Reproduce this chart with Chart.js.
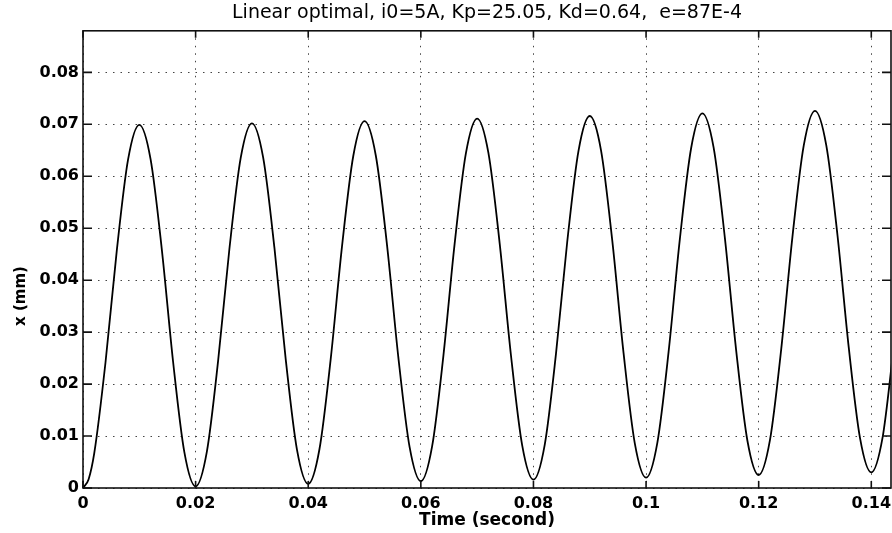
<!DOCTYPE html>
<html>
<head>
<meta charset="utf-8">
<script src="https://cdn.jsdelivr.net/npm/chart.js@4.4.1/dist/chart.umd.min.js"></script>
<style>
  body { margin: 0; background: #fff; }
  #wrap { width: 892px; height: 533px; }
</style>
</head>
<body>
<div id="wrap"><canvas id="lineChart"></canvas></div>
<script>
const lineChart = document.getElementById('lineChart');

// time (s), read every 2 ms off the plot (plus one early point at 1 ms)
const times = [
	0, 0.001, 0.002, 0.004, 0.006, 0.008, 0.010, 0.012, 0.014, 0.016, 0.018,
	0.020, 0.022, 0.024, 0.026, 0.028, 0.030, 0.032, 0.034, 0.036, 0.038,
	0.040, 0.042, 0.044, 0.046, 0.048, 0.050, 0.052, 0.054, 0.056, 0.058,
	0.060, 0.062, 0.064, 0.066, 0.068, 0.070, 0.072, 0.074, 0.076, 0.078,
	0.080, 0.082, 0.084, 0.086, 0.088, 0.090, 0.092, 0.094, 0.096, 0.098,
	0.100, 0.102, 0.104, 0.106, 0.108, 0.110, 0.112, 0.114, 0.116, 0.118,
	0.120, 0.122, 0.124, 0.126, 0.128, 0.130, 0.132, 0.134, 0.136, 0.138,
	0.140, 0.142, 0.144,
];

// x (mm)
const position = [
	0, 0.0017, 0.0067, 0.0242, 0.0457, 0.0632, 0.0699,
	0.0633, 0.0459, 0.0243, 0.0069, 0.0003,
	0.0070, 0.0245, 0.0460, 0.0635, 0.0702,
	0.0636, 0.0462, 0.0248, 0.0074, 0.0008,
	0.0075, 0.0249, 0.0465, 0.0639, 0.0706,
	0.0640, 0.0467, 0.0252, 0.0079, 0.0013,
	0.0080, 0.0254, 0.0470, 0.0644, 0.0711,
	0.0645, 0.0471, 0.0256, 0.0082, 0.0016,
	0.0083, 0.0258, 0.0474, 0.0649, 0.0716,
	0.0650, 0.0476, 0.0260, 0.0086, 0.0020,
	0.0087, 0.0262, 0.0479, 0.0654, 0.0721,
	0.0655, 0.0481, 0.0265, 0.0091, 0.0025,
	0.0092, 0.0267, 0.0484, 0.0659, 0.0726,
	0.0660, 0.0486, 0.0270, 0.0096, 0.0030,
	0.0097, 0.0272,
];

const xTickLabels = ['0', '0.02', '0.04', '0.06', '0.08', '0.1', '0.12', '0.14'];
const yTickLabels = ['0', '0.01', '0.02', '0.03', '0.04', '0.05', '0.06', '0.07', '0.08'];

// box round the plot with inward ticks, matlab style
const frame = {
	id: 'frame',
	afterDatasetsDraw(chart) {
		const { ctx, chartArea: a, scales: { x, y } } = chart;
		ctx.save();
		ctx.strokeStyle = '#111';
		ctx.lineWidth = 1.6;
		ctx.strokeRect(a.left, a.top, a.right - a.left, a.bottom - a.top);
		ctx.beginPath();
		x.ticks.forEach((t) => {
			const px = x.getPixelForValue(t.value);
			ctx.moveTo(px, a.bottom);
			ctx.lineTo(px, a.bottom - 7);
			ctx.moveTo(px, a.top);
			ctx.lineTo(px, a.top + 7);
		});
		y.ticks.forEach((t) => {
			const py = y.getPixelForValue(t.value);
			ctx.moveTo(a.left, py);
			ctx.lineTo(a.left + 9, py);
			ctx.moveTo(a.right, py);
			ctx.lineTo(a.right - 9, py);
		});
		ctx.stroke();
		ctx.restore();
	},
};

const newLineChart = new Chart(lineChart, {
	type: 'line',
	data: {
		datasets: [
			{
				data: times.map((t, i) => ({ x: t, y: position[i] })),
				borderColor: '#000',
				borderWidth: 1.8,
				pointRadius: 0,
				cubicInterpolationMode: 'monotone',
			},
		],
	},
	options: {
		responsive: true,
		maintainAspectRatio: false,
		animation: false,
		layout: { padding: { left: 0, right: 1, top: 0, bottom: 0 } },
		plugins: {
			legend: { display: false },
			tooltip: { enabled: false },
			title: {
				display: true,
				text: 'Linear optimal, i0=5A, Kp=25.05, Kd=0.64,  e=87E-4',
				color: '#000',
				fullSize: false,
				font: { family: 'DejaVu Sans', size: 19, weight: 'normal' },
				padding: { top: 2, bottom: 6 },
			},
		},
		scales: {
			x: {
				type: 'linear',
				min: 0,
				max: 0.1435,
				afterFit: (scale) => {
					scale.height = 45;
					scale.paddingLeft = 0;
					scale.paddingRight = 0;
				},
				border: { display: false, dash: [1.5, 6] },
				grid: { color: '#444', drawTicks: false },
				ticks: {
					stepSize: 0.02,
					includeBounds: false,
					padding: 6,
					color: '#000',
					font: { family: 'DejaVu Sans', size: 16, weight: 'bold' },
					maxRotation: 0,
					callback: (v, i) => xTickLabels[i],
				},
				title: {
					display: true,
					text: 'Time (second)',
					color: '#000',
					font: { family: 'DejaVu Sans', size: 17, weight: 'bold' },
					padding: 2,
				},
			},
			y: {
				min: 0,
				max: 0.088,
				afterFit: (scale) => {
					scale.width = 83;
					scale.paddingTop = 0;
					scale.paddingBottom = 0;
				},
				border: { display: false, dash: [1.5, 6] },
				grid: { color: '#444', drawTicks: false },
				ticks: {
					stepSize: 0.01,
					includeBounds: false,
					padding: 4,
					color: '#000',
					font: { family: 'DejaVu Sans', size: 16, weight: 'bold' },
					callback: (v, i) => yTickLabels[i],
				},
				title: {
					display: true,
					text: 'x (mm)              ',
					color: '#000',
					font: { family: 'DejaVu Sans', size: 15, weight: 'bold' },
					padding: { top: 12, bottom: 0 },
				},
			},
		},
	},
	plugins: [frame],
});
</script>
</body>
</html>
